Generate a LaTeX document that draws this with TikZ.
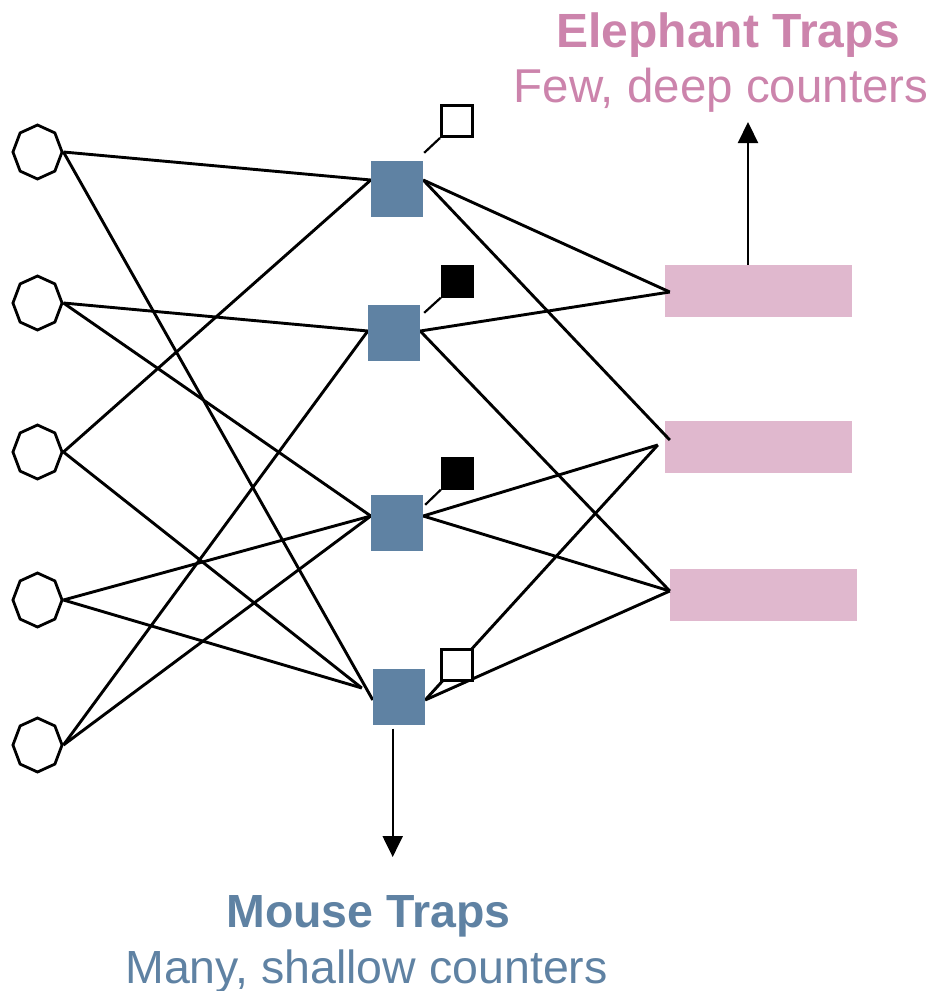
\documentclass[tikz,border=0pt]{standalone}
\usepackage{fontspec}
\setmainfont{Liberation Sans}
\usetikzlibrary{shapes.geometric,arrows.meta}
\definecolor{trapblue}{HTML}{5F82A3}
\definecolor{boxpink}{HTML}{E0B8CE}
\definecolor{textpink}{HTML}{CC84AC}
\pgfdeclarelayer{back}
\pgfdeclarelayer{wires}
\pgfsetlayers{back,wires,main}
\begin{document}
\begin{tikzpicture}[x=1pt,y=-1pt,
  flow/.style={line width=2.9pt},
  host/.style={regular polygon, regular polygon sides=8, shape border rotate=22.5,
    draw, line width=2.8pt, minimum size=54pt, inner sep=0pt, xscale=0.91, transform shape},
  mousebox/.style={fill=trapblue, minimum width=52pt, minimum height=56pt, inner sep=0pt},
  elephantbox/.style={fill=boxpink, minimum width=187pt, minimum height=52pt, inner sep=0pt},
  flagoff/.style={draw, line width=3pt, minimum size=31pt, inner sep=0pt, fill=white},
  flagon/.style={fill=black, minimum size=33pt, inner sep=0pt},
  leader/.style={line width=2.2pt},
  pointer/.style={line width=2.2pt, -{Triangle[width=20pt,length=21pt]}},
  elhead/.style={anchor=base, font=\bfseries\fontsize{48}{54}\selectfont},
  elsub/.style={anchor=base, font=\fontsize{47.5}{54}\selectfont},
  mohead/.style={anchor=base, font=\bfseries\fontsize{46.5}{52}\selectfont},
  mosub/.style={anchor=base, font=\fontsize{46.5}{52}\selectfont},
]
\useasboundingbox (0,0) rectangle (937,991);

% large counters
\begin{pgfonlayer}{back}
\node[elephantbox] (p1) at (758.5,291) {};
\node[elephantbox] (p2) at (758.5,447) {};
\node[elephantbox] (p3) at (763.5,595) {};
\end{pgfonlayer}

% flows
\node[host] (o1) at (37.5,152) {};
\node[host] (o2) at (37.5,303) {};
\node[host] (o3) at (37.5,452) {};
\node[host] (o4) at (37.5,600) {};
\node[host] (o5) at (37.5,745) {};

% small counters
\node[mousebox] (b1) at (397,189) {};
\node[mousebox] (b2) at (394,333) {};
\node[mousebox] (b3) at (397,523) {};
\node[mousebox] (b4) at (399,696.5) {};

% flow-to-counter hashing, under the counters
\begin{pgfonlayer}{wires}
\draw[flow] (o1.east) -- ([yshift=9pt]b1.west);
\draw[flow] (o1.east) -- ([yshift=-3.5pt]b4.west);
\draw[flow] (o2.east) -- ([yshift=2pt]b2.west);
\draw[flow] (o2.east) -- ([yshift=7pt]b3.west);
\draw[flow] (o3.east) -- ([yshift=9pt]b1.west);
\draw[flow] (o3.east) -- ([xshift=-11pt,yshift=8.5pt]b4.west);
\draw[flow] (o4.east) -- ([yshift=7pt]b3.west);
\draw[flow] (o4.east) -- ([xshift=-11pt,yshift=8.5pt]b4.west);
\draw[flow] (o5.east) -- ([yshift=2pt]b2.west);
\draw[flow] (o5.east) -- ([yshift=7pt]b3.west);

\draw[flow] ([yshift=9pt]b1.east) -- ([xshift=5pt,yshift=-1pt]p1.west);
\draw[flow] ([yshift=9pt]b1.east) -- ([xshift=5pt,yshift=7pt]p2.west);
\draw[flow] ([yshift=2pt]b2.east) -- ([xshift=5pt,yshift=-1pt]p1.west);
\draw[flow] ([yshift=2pt]b2.east) -- ([yshift=4pt]p3.west);
\draw[flow] ([yshift=7pt]b3.east) -- ([xshift=-7pt,yshift=2pt]p2.west);
\draw[flow] ([yshift=7pt]b3.east) -- ([yshift=4pt]p3.west);
\draw[flow] ([yshift=-3.5pt]b4.east) -- ([xshift=-7pt,yshift=2pt]p2.west);
\draw[flow] ([yshift=-3.5pt]b4.east) -- ([yshift=4pt]p3.west);
\end{pgfonlayer}

% flag bits
\node[flagoff] (s1) at (457,121) {};
\node[flagon]  (s2) at (457.5,281) {};
\node[flagon]  (s3) at (457.5,473) {};
\node[flagoff] (s4) at (457,664.5) {};
\draw[leader] ([xshift=1pt,yshift=8pt]b1.north east) -- (s1.south west);
\draw[leader] ([xshift=4pt,yshift=-8pt]b2.north east) -- (s2.south west);
\draw[leader] ([xshift=2pt,yshift=-10pt]b3.north east) -- (s3.south west);

% outputs
\coordinate (etip) at (748,122);
\coordinate (mtip) at (392.7,857);
\draw[pointer] ([xshift=-10.5pt]p1.north) -- (etip);
\draw[pointer] ([xshift=-6.3pt,yshift=-4pt]b4.south) -- (mtip);

% labels
\node[elhead, text=textpink] (etitle) at (728.5,47) {Elephant Traps};
\node[elsub, text=textpink] (esub) at (721,102) {Few, deep counters};
\node[mohead, text=trapblue] (mtitle) at (368.5,927) {Mouse Traps};
\node[mosub, text=trapblue] (msub) at (366.5,983) {Many, shallow counters};
\end{tikzpicture}
\end{document}
